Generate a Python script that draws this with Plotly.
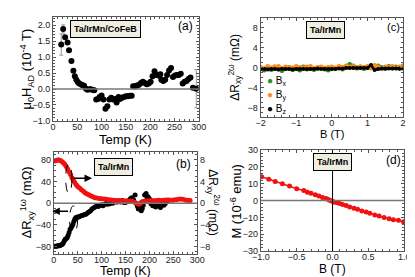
import plotly.graph_objects as go

# ---------------- Panel (a) ----------------
a_temp = [17, 21, 25, 30, 33, 38, 42, 45, 48, 51, 54, 58, 61, 64, 68, 71, 75, 78, 82, 85,
          89, 93, 96, 100, 104, 108, 112, 116, 120, 124, 128, 131, 135, 138, 142, 146, 150,
          154, 158, 162, 165, 169, 173, 177, 181, 185, 189, 193, 197, 201, 205, 209, 213,
          217, 221, 223, 227, 231, 235, 239, 243, 247, 251, 255, 259, 263, 267, 271, 275,
          279, 283, 288, 295]
a_had = [1.39, 1.88, 1.62, 1.46, 1.21, 0.88, 0.57, 0.40, 0.29, 0.22, 0.17, 0.14, 0.12, 0.10,
         0.01, -0.02, -0.01, -0.01, -0.03, -0.04, -0.33, -0.31, -0.25, -0.20, -0.33, -0.62,
         -0.54, -0.33, -0.27, -0.33, -0.31, -0.42, -0.25, -0.31, -0.27, -0.25, -0.23, -0.23,
         -0.21, -0.21, 0.09, 0.09, 0.11, 0.13, 0.19, 0.23, 0.19, 0.15, 0.17, 0.23, 0.40,
         0.56, 0.44, 0.42, 0.46, 0.29, 0.25, 0.29, 0.44, 0.58, 0.66, 0.38, 0.42, 0.44, 0.44,
         0.48, 0.17, 0.23, 0.25, 0.31, 0.36, 0.04, 0.01]
a_err = [0.33, 0.13] + [0] * 70 + [0.6]

# ---------------- Panel (b) ----------------
b_red_temp = [2, 5, 8, 11, 14, 17, 20, 23, 26, 29, 32, 35, 38, 41, 44, 47, 50, 54, 58, 62,
              66, 70, 74, 78, 82, 86, 90, 95, 100, 105, 110, 115, 120, 125, 130, 135, 140,
              145, 150, 155, 160, 165, 170, 175, 178, 181, 184, 187, 190, 195, 200, 205,
              210, 215, 220, 225, 230, 235, 240, 245, 250, 255, 260, 265, 270, 275, 280, 285]
b_red_r2w = [7.8, 7.9, 8.0, 8.0, 7.9, 7.7, 7.5, 7.2, 6.8, 6.3, 5.8, 5.3, 4.7, 4.2, 3.8, 3.4,
             3.1, 2.8, 2.5, 2.2, 1.9, 1.7, 1.5, 1.3, 1.2, 1.0, 0.95, 0.85, 0.8, 0.75, 0.7,
             0.65, 0.6, 0.55, 0.5, 0.5, 0.45, 0.45, 0.4, 0.4, 0.35, 0.3, 0.1, -0.1, -0.2,
             0.0, 0.2, 0.3, 0.35, 0.4, 0.45, 0.5, 0.45, 0.5, 0.55, 0.5, 0.55, 0.6, 0.6, 0.55,
             0.6, 0.65, 0.7, 0.75, 0.7, 0.6, 0.55, 0.5]
b_blk_temp = [2, 4, 6, 8, 10, 12, 14, 16, 18, 20, 22, 24, 26, 28, 30, 32, 34, 36, 38, 40, 42,
              44, 46, 48, 50, 53, 56, 59, 62, 65, 68, 71, 74, 77, 80, 83, 86, 90, 93, 97, 100,
              103, 107, 110, 113, 117, 120, 123, 127, 130, 133, 137, 140, 143, 147, 150, 153,
              157, 160, 163, 167, 170, 173, 175, 177, 180, 183, 185, 187, 190, 193, 195, 197,
              200, 203, 207, 210, 213, 217, 220, 223, 227, 230, 233, 237]
b_blk_r1w = [-80, -80, -80, -79, -79, -79, -78, -77, -76, -74, -70, -67, -66, -64, -60, -55,
             -49, -46, -43, -39, -34, -30, -27, -26, -26, -25, -24, -23, -22, -21, -20, -18,
             -16, -14, -11, -9, -7, -5, -6, -4, -3, -5, -2, 0, -2, -1, 1, 0, 3, 2, 2, 4, 2,
             5, 1, 1, 4, 3, 8, 10, 6, 15, -1, -6, -11, -8, -14, -10, -4, 15, 18, 10, 12, 8,
             -1, -5, -2, -7, 1, -3, -8, 2, -4, -1, 4]

# ---------------- Panel (c) ----------------
c_field = [-2.0, -1.9, -1.8, -1.7, -1.6, -1.5, -1.4, -1.3, -1.2, -1.1, -1.0, -0.9, -0.8,
           -0.7, -0.6, -0.5, -0.4, -0.3, -0.2, -0.1, 0.0, 0.1, 0.2, 0.3, 0.4, 0.5, 0.6, 0.7,
           0.8, 0.9, 1.0, 1.1, 1.2, 1.3, 1.4, 1.5, 1.6, 1.7, 1.8, 1.9, 2.0]
c_bx = [-0.3, -0.5, -0.1, -0.4, 0.1, -0.3, -0.6, -0.2, 0.0, -0.4, -0.2, -0.5, 0.1, -0.3,
        -0.1, -0.4, -0.2, 0.0, -0.3, -0.5, -0.1, -0.2, 0.0, -0.3, 0.2, 0.6, 0.3, -0.1, 0.1,
        -0.2, 0.0, 0.2, -0.1, 0.3, 0.0, -0.2, 0.2, -0.1, 0.1, -0.2, 0.3]
c_by = [0.0, -0.2, 0.2, -0.1, 0.1, 0.2, -0.2, 0.1, 0.0, -0.1, 0.2, 0.0, -0.1, 0.1, 0.2,
        -0.2, 0.0, 0.1, -0.1, 0.0, 0.1, -0.1, 0.2, 0.0, 0.3, 0.1, 0.2, -0.1, 0.1, 0.0, 0.2,
        -0.1, 0.4, 0.1, -0.2, 0.1, 0.0, 0.2, -0.1, 0.1, 0.2]
c_bz = [-0.3, -0.3, -0.4, -0.3, -0.3, -0.4, -0.3, -0.3, -0.3, -0.4, -0.3, -0.3, -0.3, -0.3,
        -0.3, -0.3, -0.2, -0.3, -0.3, -0.3, -0.3, -0.3, -0.2, -0.2, -0.1, -0.1, -0.1, -0.1,
        -0.1, -0.1, -0.1, 0.5, -0.5, -0.3, -0.2, -0.2, -0.2, -0.2, -0.2, -0.2, -0.2]
c_names = ["B<sub>x</sub>", "B<sub>y</sub>", "B<sub>z</sub>"]
c_colors = ["#2e8b2e", "#ff8c1a", "black"]

# ---------------- Panel (d) ----------------
d_field = [-0.99, -0.89, -0.80, -0.70, -0.60, -0.50, -0.40, -0.35, -0.30, -0.24, -0.19,
           -0.14, -0.09, -0.06, -0.04, -0.01, 0.01, 0.03, 0.07, 0.10, 0.14, 0.19, 0.24,
           0.30, 0.35, 0.41, 0.47, 0.52, 0.59, 0.65, 0.72, 0.79, 0.85, 0.92, 0.99]
d_moment = [14.2, 12.7, 11.3, 10.0, 8.7, 7.1, 6.0, 5.0, 4.4, 3.5, 2.7, 1.9, 1.2, 0.6, 0.2,
            -0.2, -0.6, -1.0, -1.3, -1.7, -2.3, -2.9, -3.8, -4.6, -5.2, -6.2, -6.7, -7.5,
            -8.5, -9.2, -10.0, -10.8, -11.3, -11.7, -12.5]

FONT = "Liberation Sans, Arial, sans-serif"
RED = "#f21010"
AX = "#555555"

fig = go.Figure()

# (a)
fig.add_trace(go.Scatter(x=a_temp, y=a_had, mode="markers", xaxis="x", yaxis="y",
                         marker=dict(color="black", size=6),
                         error_y=dict(type="data", array=a_err, color="#999999",
                                      thickness=1, width=2),
                         showlegend=False))
# (c)
for vals, col, nm, sz in zip([c_bx, c_by, c_bz], c_colors, c_names, [5, 5, 4]):
    fig.add_trace(go.Scatter(x=c_field, y=vals, mode="lines+markers", xaxis="x2", yaxis="y2",
                             line=dict(color=col, width=2.5), marker=dict(color=col, size=sz),
                             name=nm, showlegend=False))
# (b)
fig.add_trace(go.Scatter(x=b_blk_temp, y=b_blk_r1w, mode="markers", xaxis="x3", yaxis="y3",
                         marker=dict(color="black", size=5), showlegend=False))
fig.add_trace(go.Scatter(x=b_red_temp, y=b_red_r2w, mode="lines+markers", xaxis="x3", yaxis="y5",
                         line=dict(color=RED, width=3), marker=dict(color=RED, size=5),
                         showlegend=False))
# (d)
fig.add_trace(go.Scatter(x=d_field, y=d_moment, mode="lines+markers", xaxis="x4", yaxis="y4",
                         line=dict(color=RED, width=1.5), marker=dict(color=RED, size=5),
                         showlegend=False))


def axis(domain, rng, dtick, anchor, **kw):
    d = dict(domain=domain, range=rng, dtick=dtick, anchor=anchor, showgrid=False,
             zeroline=False, showline=True, linecolor=AX, linewidth=1, mirror="ticks",
             ticks="inside", ticklen=3, tickcolor=AX, tickfont=dict(size=9, color="#222"),
             minor=dict(ticks="inside", ticklen=2, tickcolor=AX))
    d.update(kw)
    return d


fig.update_layout(
    width=415, height=277, margin=dict(l=0, r=0, t=0, b=0),
    paper_bgcolor="white", plot_bgcolor="white",
    font=dict(family=FONT, color="#222"),
    showlegend=False,
    xaxis=axis([0.0904, 0.4566], [0, 300], 50, "y", tick0=0, ticklabelstandoff=-3),
    yaxis=axis([0.5957, 0.9856], [-1, 2.26], 0.5, "x", tick0=0, tickformat=".1f"),
    xaxis2=axis([0.612, 0.970], [-2, 2], 1, "y2", ticklabelstandoff=-3),
    yaxis2=axis([0.609, 0.983], [-10, 10], 4, "x2", tick0=0),
    xaxis3=axis([0.0923, 0.453], [0, 300], 50, "y3", tick0=0, ticklabelstandoff=-3),
    yaxis3=axis([0.0957, 0.480], [-95, 95], 40, "x3", tick0=0, mirror=False),
    yaxis5=axis([0.0957, 0.480], [-9.5, 9.5], 4, "x3", tick0=0, overlaying="y3",
                side="right", mirror=False),
    xaxis4=axis([0.6128, 0.9728], [-1, 1], 0.5, "y4", tick0=0, tickformat=".1f",
                ticklabelstandoff=-3),
    yaxis4=axis([0.1083, 0.4863], [-30, 30], 10, "x4", tick0=0),
)

# zero / reference lines
fig.add_shape(type="line", xref="x domain", yref="y", x0=0, x1=1, y0=0, y1=0,
              line=dict(color="#777", width=1.5))
fig.add_shape(type="line", xref="x3 domain", yref="y3", x0=0, x1=1, y0=0, y1=0,
              line=dict(color="#777", width=1.5))
fig.add_shape(type="line", xref="x4 domain", yref="y4", x0=0, x1=1, y0=0, y1=0,
              line=dict(color="#777", width=1.5))
fig.add_shape(type="line", xref="x4", yref="y4 domain", x0=0, x1=0, y0=0, y1=1,
              line=dict(color="black", width=1))

# dashed ellipses in (b)
fig.add_shape(type="circle", xref="x3", yref="y3", x0=25, x1=38, y0=18, y1=73,
              line=dict(color="black", width=1, dash="dash"))
fig.add_shape(type="circle", xref="x3", yref="y3", x0=33, x1=50, y0=-55, y1=-5,
              line=dict(color="black", width=1, dash="dash"))
fig.add_annotation(xref="x3", yref="y3", axref="x3", ayref="y3", x=80, y=46, ax=38, ay=46,
                   text="", showarrow=True, arrowhead=2, arrowsize=1, arrowwidth=1.5,
                   arrowcolor="black")
fig.add_annotation(xref="x3", yref="y3", axref="x3", ayref="y3", x=-3, y=-15, ax=33, ay=-15,
                   text="", showarrow=True, arrowhead=2, arrowsize=1, arrowwidth=1.5,
                   arrowcolor="black")

# label boxes
def box(x, y, text):
    fig.add_annotation(xref="paper", yref="paper", x=x / 415, y=1 - y / 277,
                       xanchor="center", yanchor="middle", text="<b>" + text + "</b>",
                       showarrow=False, font=dict(size=9, color="black"), bgcolor="#efeee0",
                       bordercolor="black", borderwidth=1, borderpad=3)

box(92, 17, "Ta/IrMn/CoFeB")
box(322, 18, "Ta/IrMn")
box(101, 160, "Ta/IrMn")
box(329, 155, "Ta/IrMn")

def ptext(x, y, text, size=12, angle=0, xanchor="center"):
    fig.add_annotation(xref="paper", yref="paper", x=x / 415, y=1 - y / 277, text=text,
                       xanchor=xanchor, yanchor="middle", borderpad=0,
                       showarrow=False, font=dict(size=size, color="black"), textangle=angle)

# legend of panel (c)
for i, (col, nm) in enumerate(zip(c_colors, c_names)):
    ptext(260, 71 + 14.5 * i, '<span style="color:%s">●</span> %s' % (col, nm), 10,
          xanchor="left")

ptext(176, 14, "(a)", 12)
ptext(393, 15, "(c)", 11)
ptext(174, 157, "(b)", 12)
ptext(393, 153, "(d)", 12)

# axis titles
ptext(113, 131, "Temp (K)", 13)
ptext(113, 268, "Temp (K)", 12.5)
ptext(328, 126, "B (T)", 11)
ptext(329, 265.5, "B (T)", 12)
ptext(10, 58, "μ<sub>0</sub>H<sub>AD</sub> (10<sup>-4</sup> T)", 13, -90)
ptext(10, 197, "ΔR<sub>xy</sub><sup>1ω</sup> (mΩ)", 13, -90)
ptext(205, 197, "ΔR<sub>xy</sub><sup>2ω</sup> (mΩ)", 12, 90)
ptext(227, 56, "ΔR<sub>xy</sub><sup>2ω</sup> (mΩ)", 12, -90)
ptext(228, 195, "M (10<sup>-6</sup> emu)", 13, -90)

fig.write_html("out.html")
